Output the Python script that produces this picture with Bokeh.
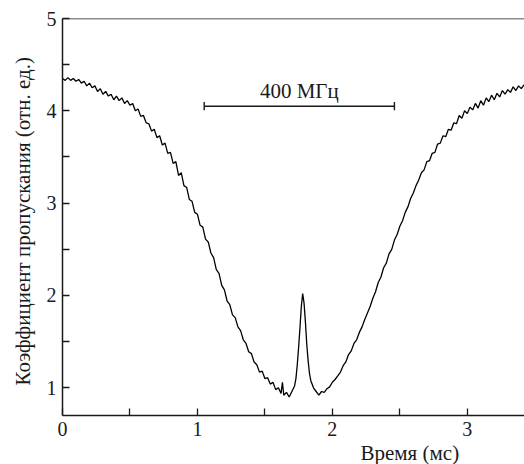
from bokeh.plotting import figure
from bokeh.models import FixedTicker, Span, Label, Range1d, Title
from bokeh.embed import file_html
from bokeh.resources import INLINE

# ---- data ----
time_ms = [0.00, 0.02, 0.04, 0.06, 0.08, 0.10, 0.12, 0.14, 0.16, 0.18,
           0.20, 0.22, 0.24, 0.26, 0.28, 0.30, 0.32, 0.34, 0.36, 0.38,
           0.40, 0.42, 0.44, 0.46, 0.48, 0.50, 0.52, 0.54, 0.56, 0.58,
           0.60, 0.62, 0.64, 0.66, 0.68, 0.70, 0.72, 0.74, 0.76, 0.78,
           0.80, 0.82, 0.84, 0.86, 0.88, 0.90, 0.92, 0.94, 0.96, 0.98,
           1.00, 1.02, 1.04, 1.06, 1.08, 1.10, 1.12, 1.14, 1.16, 1.18,
           1.20, 1.22, 1.24, 1.26, 1.28, 1.30, 1.32, 1.34, 1.36, 1.38,
           1.40, 1.42, 1.44, 1.46, 1.48, 1.50, 1.52, 1.54, 1.56, 1.58,
           1.60, 1.62, 1.63, 1.64, 1.66, 1.68, 1.70, 1.72, 1.73, 1.74,
           1.75, 1.76, 1.77, 1.78, 1.79, 1.80, 1.81, 1.82, 1.83, 1.84,
           1.86, 1.88, 1.90, 1.92, 1.94, 1.96, 1.98, 2.00, 2.02, 2.04,
           2.06, 2.08, 2.10, 2.12, 2.14, 2.16, 2.18, 2.20, 2.22, 2.24,
           2.26, 2.28, 2.30, 2.32, 2.34, 2.36, 2.38, 2.40, 2.42, 2.44,
           2.46, 2.48, 2.50, 2.52, 2.54, 2.56, 2.58, 2.60, 2.62, 2.64,
           2.66, 2.68, 2.70, 2.72, 2.74, 2.76, 2.78, 2.80, 2.82, 2.84,
           2.86, 2.88, 2.90, 2.92, 2.94, 2.96, 2.98, 3.00, 3.02, 3.04,
           3.06, 3.08, 3.10, 3.12, 3.14, 3.16, 3.18, 3.20, 3.22, 3.24,
           3.26, 3.28, 3.30, 3.32, 3.34, 3.36, 3.38, 3.40, 3.42, 3.44]
transmission = [4.35, 4.33, 4.36, 4.33, 4.35, 4.32, 4.34, 4.30, 4.32, 4.27,
                4.30, 4.25, 4.27, 4.21, 4.24, 4.18, 4.21, 4.16, 4.18, 4.12,
                4.16, 4.11, 4.14, 4.08, 4.11, 4.06, 4.08, 4.00, 4.02, 3.94,
                3.95, 3.87, 3.86, 3.78, 3.80, 3.71, 3.73, 3.63, 3.65, 3.54,
                3.55, 3.43, 3.45, 3.30, 3.33, 3.19, 3.17, 3.04, 3.02, 2.90,
                2.88, 2.76, 2.74, 2.61, 2.58, 2.46, 2.41, 2.28, 2.24, 2.11,
                2.06, 1.94, 1.90, 1.79, 1.76, 1.66, 1.62, 1.52, 1.48, 1.39,
                1.37, 1.28, 1.25, 1.17, 1.18, 1.10, 1.11, 1.04, 1.06, 0.98,
                1.00, 0.94, 1.06, 0.92, 0.95, 0.90, 0.96, 1.02, 1.10, 1.25,
                1.44, 1.65, 1.88, 2.02, 1.92, 1.72, 1.48, 1.30, 1.16, 1.08,
                1.00, 0.96, 0.92, 0.96, 0.95, 0.99, 1.01, 1.06, 1.09, 1.13,
                1.17, 1.24, 1.28, 1.36, 1.40, 1.48, 1.52, 1.60, 1.66, 1.74,
                1.81, 1.88, 1.97, 2.04, 2.14, 2.20, 2.30, 2.35, 2.45, 2.50,
                2.60, 2.66, 2.75, 2.81, 2.90, 2.96, 3.05, 3.11, 3.19, 3.25,
                3.33, 3.36, 3.45, 3.46, 3.54, 3.55, 3.64, 3.65, 3.73, 3.72,
                3.80, 3.79, 3.87, 3.86, 3.95, 3.92, 4.00, 3.97, 4.04, 4.01,
                4.08, 4.03, 4.11, 4.06, 4.14, 4.10, 4.17, 4.12, 4.19, 4.15,
                4.22, 4.18, 4.23, 4.20, 4.26, 4.22, 4.27, 4.24, 4.28, 4.26]

x_major_ticks = [0, 1, 2, 3]
x_minor_ticks = [0.5, 1.5, 2.5]
y_major_ticks = [1, 2, 3, 4, 5]
y_minor_ticks = [1.5, 2.5, 3.5, 4.5]

bracket_x = [1.05, 2.46]
bracket_y = 4.05
bracket_label = "400 МГц"

x_title = "Время (мс)"
y_title = "Коэффициент пропускания (отн. ед.)"

FONT = "Liberation Serif"
INK = "#1a1a1a"

p = figure(width=524, height=464, output_backend="svg", toolbar_location=None,
           x_range=Range1d(0, 3.424), y_range=Range1d(0.70, 5.0),
           min_border_left=61, min_border_right=0, min_border_top=18,
           min_border_bottom=47)
p.outline_line_color = None
p.grid.visible = False
p.background_fill_color = "white"
p.border_fill_color = "white"

for ax, maj, mnr in ((p.xaxis[0], x_major_ticks, x_minor_ticks),
                     (p.yaxis[0], y_major_ticks, y_minor_ticks)):
    ax.ticker = FixedTicker(ticks=maj, minor_ticks=mnr)
    ax.axis_line_color = INK
    ax.axis_line_width = 1.5
    ax.major_tick_line_color = INK
    ax.minor_tick_line_color = INK
    ax.major_tick_line_width = 1.3
    ax.minor_tick_line_width = 1.3
    ax.major_tick_in = 7
    ax.major_tick_out = 0
    ax.minor_tick_in = 7
    ax.minor_tick_out = 0
    ax.major_label_text_font = FONT
    ax.major_label_text_font_size = "20px"
    ax.major_label_text_color = INK
    ax.major_label_standoff = 6

# axis titles as side titles (allows off-centre placement like the reference)
p.add_layout(Title(text=x_title, align="left", offset=298, text_font=FONT,
                   text_font_size="21px", text_font_style="normal",
                   text_color=INK, standoff=0), "below")
p.add_layout(Title(text=y_title, align="left", offset=30, text_font=FONT,
                   text_font_size="21px", text_font_style="normal",
                   text_color=INK, standoff=17), "left")

# top frame line
p.add_layout(Span(location=5.0, dimension="width", line_color=INK, line_width=1.5))

# measured curve
p.line(time_ms, transmission, line_color="black", line_width=1.3)

# frequency-scale bracket
p.segment(x0=[bracket_x[0]], y0=[bracket_y], x1=[bracket_x[1]], y1=[bracket_y],
          line_color=INK, line_width=1.4)
p.segment(x0=bracket_x, y0=[bracket_y - 0.045] * 2, x1=bracket_x,
          y1=[bracket_y + 0.045] * 2, line_color=INK, line_width=1.4)
p.add_layout(Label(x=(bracket_x[0] + bracket_x[1]) / 2, y=bracket_y + 0.165,
                   text=bracket_label, text_align="center",
                   text_baseline="middle", text_font=FONT,
                   text_font_size="21px", text_color=INK))

open("out.html", "w").write(file_html(p, INLINE))
